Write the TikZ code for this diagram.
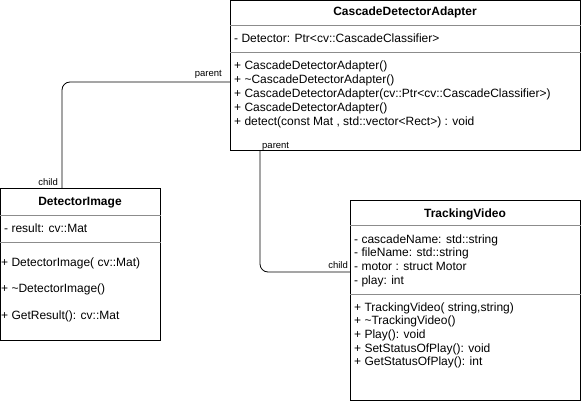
\documentclass[tikz,border=0pt]{standalone}
\usepackage{fontspec}
\setmainfont{Liberation Sans}
\usetikzlibrary{arrows.meta, positioning}

\begin{document}
\begin{tikzpicture}[x=1pt, y=-1pt, >=Stealth,
  classbox/.style={rectangle, draw, line width=0.8pt, anchor=north west, inner sep=0pt},
  sep/.style={draw=black!45, line width=0.6pt},
  title/.style={anchor=base, inner sep=0pt, font=\fontsize{12}{14}\selectfont\bfseries},
  member/.style={anchor=base west, inner sep=0pt, font=\fontsize{12}{14}\selectfont},
  role/.style={inner sep=0pt, font=\fontsize{9.5}{11}\selectfont},
  link/.style={line width=0.8pt, rounded corners=8pt}]
  \useasboundingbox (0,0) rectangle (581,401);

  % classes
  \node[classbox, minimum width=350pt, minimum height=150pt] (adapter) at (230,0) {};
  \node[classbox, minimum width=160pt, minimum height=152pt] (image) at (0,188) {};
  \node[classbox, minimum width=230pt, minimum height=200pt] (video) at (350,200) {};

  % CascadeDetectorAdapter
  \node[title] (adaptertitle) at (405,16) {CascadeDetectorAdapter};
  \draw[sep] ([yshift=-25pt]adapter.north west) -- ([yshift=-25pt]adapter.north east);
  \node[member] (adapterattr) at (234,43) {- Detector: Ptr<cv::CascadeClassifier>};
  \draw[sep] ([yshift=-52pt]adapter.north west) -- ([yshift=-52pt]adapter.north east);
  \foreach \txt [count=\i] in {+ CascadeDetectorAdapter(), + \textasciitilde CascadeDetectorAdapter(),
      + CascadeDetectorAdapter(cv::Ptr<cv::CascadeClassifier>), + CascadeDetectorAdapter(),
      {+ detect(const Mat , std::vector<Rect>) : void}}
    \node[member] (adapterop\i) at (234,56+14*\i) {\txt};

  % DetectorImage
  \node[title] (imagetitle) at (80,205) {DetectorImage};
  \draw[sep] ([yshift=-27pt]image.north west) -- ([yshift=-27pt]image.north east);
  \node[member] (imageattr) at (4,232) {- result: cv::Mat};
  \draw[sep] ([yshift=-54pt]image.north west) -- ([yshift=-54pt]image.north east);
  \foreach \txt [count=\i] in {+ DetectorImage( cv::Mat), + \textasciitilde DetectorImage(), + GetResult(): cv::Mat}
    \node[member] (imageop\i) at (1,239.5+26.5*\i) {\txt};

  % TrackingVideo
  \node[title] (videotitle) at (465,217) {TrackingVideo};
  \draw[sep] ([yshift=-25pt]video.north west) -- ([yshift=-25pt]video.north east);
  \foreach \txt [count=\i] in {- cascadeName: std::string, - fileName: std::string,
      - motor : struct Motor, - play: int}
    \node[member] (videoattr\i) at (354,229.3+13.7*\i) {\txt};
  \draw[sep] ([yshift=-94pt]video.north west) -- ([yshift=-94pt]video.north east);
  \foreach \txt [count=\i] in {{+ TrackingVideo( string,string)}, + \textasciitilde TrackingVideo(),
      + Play(): void, + SetStatusOfPlay(): void, + GetStatusOfPlay(): int}
    \node[member] (videoop\i) at (354,297.3+13.7*\i) {\txt};

  % links
  \draw[link] ([xshift=62pt]image.north west) |- ([yshift=-82pt]adapter.north west);
  \draw[link] ([xshift=30pt]adapter.south west) |- ([yshift=-72pt]video.north west);
  \node[role, anchor=south east] (imagechild) at (58,186) {child};
  \node[role, anchor=south east] (adapterparent1) at (222,79) {parent};
  \node[role, anchor=south west] (adapterparent2) at (262,151) {parent};
  \node[role, anchor=south east] (videochild) at (348,269) {child};
\end{tikzpicture}
\end{document}
